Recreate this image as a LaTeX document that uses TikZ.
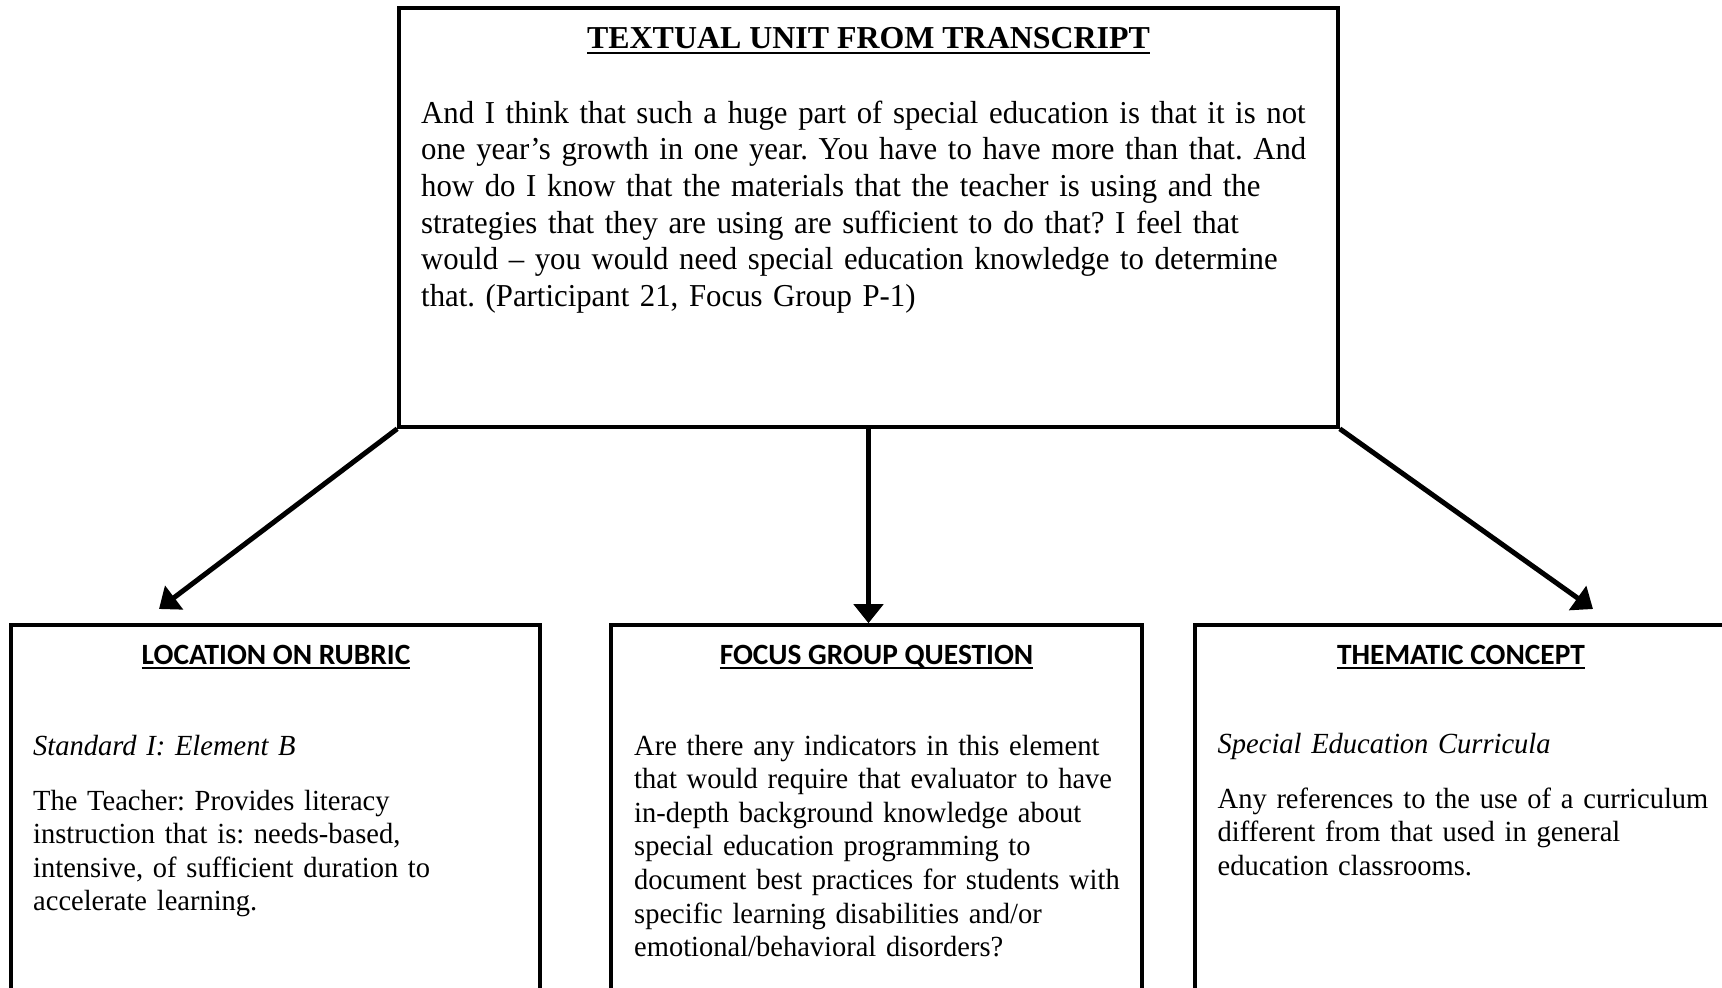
\documentclass[tikz,border=0pt]{standalone}
\usepackage{fontspec}
\setmainfont{Liberation Serif}
\newfontfamily\topfont{Liberation Serif}[FakeStretch=0.965]
\newfontfamily\botfont{Liberation Serif}[FakeStretch=0.976]
\newfontfamily\hdfont{Carlito}
\usetikzlibrary{arrows.meta}
\newcommand\ulx[3]{\leavevmode\setbox0=\hbox{#3}\dp0=0pt\vtop{\copy0\kern#1\hrule height #2 width \wd0}}
\frenchspacing
\begin{document}
\begin{tikzpicture}[x=1pt,y=-1pt,
  box/.style={draw, line width=3.6pt, rectangle, inner sep=0pt},
  arr/.style={line width=5pt, -{Triangle[length=19pt,width=29pt]}},
  bigtext/.style={anchor=base west, inner sep=0pt, text width=1000pt, align=left,
    font=\topfont\frenchspacing\fontsize{31.9}{36.7}\selectfont},
  smalltext/.style={anchor=base west, inner sep=0pt, text width=600pt, align=left,
    font=\botfont\frenchspacing\fontsize{29.2}{33.6}\selectfont},
  title/.style={anchor=base, inner sep=0pt, font=\bfseries\fontsize{31.9}{36.7}\selectfont},
  head/.style={anchor=base, inner sep=0pt, font=\hdfont\bfseries\fontsize{29.4}{33.6}\selectfont},
]
\useasboundingbox (0,0) rectangle (1722,988);
\fill[white] (0,0) rectangle (1722,988);
\clip (0,0) rectangle (1722,988);

% top box
\node[box, minimum width=939pt, minimum height=419pt] (top) at (868.5,217.5) {};
\node[title] (ttl) at (868.5,48) {\ulx{3.5pt}{2.5pt}{TEXTUAL UNIT FROM TRANSCRIPT}};
\node[bigtext] (tbody) at (421,123) {And I think that such a huge part of special education is that it is not\\
one year’s growth in one year. You have to have more than that. And\\
how do I know that the materials that the teacher is using and the\\
strategies that they are using are sufficient to do that? I feel that\\
would – you would need special education knowledge to determine\\
that. (Participant 21, Focus Group P-1)};

% bottom boxes (open at the bottom edge of the picture)
\node[box, minimum width=529pt, minimum height=500pt] (lbox) at (275.5,875) {};
\node[box, minimum width=531pt, minimum height=500pt] (mbox) at (876.5,875) {};
\node[box, minimum width=545pt, minimum height=500pt] (rbox) at (1467.5,875) {};

\node[head] (lhead) at (276,664) {\ulx{3pt}{2.2pt}{LOCATION ON RUBRIC}};
\node[head] (mhead) at (876.5,664) {\ulx{3pt}{2.2pt}{FOCUS GROUP QUESTION}};
\node[head] (rhead) at (1461,664) {\ulx{3pt}{2.2pt}{THEMATIC CONCEPT}};

\node[smalltext] (ltext) at (33,755) {\textit{Standard I: Element B}\\[21.4pt]
The Teacher: Provides literacy\\
instruction that is: needs-based,\\
intensive, of sufficient duration to\\
accelerate learning.};

\node[smalltext] (mtext) at (634,755) {Are there any indicators in this element\\
that would require that evaluator to have\\
in-depth background knowledge about\\
special education programming to\\
document best practices for students with\\
specific learning disabilities and/or\\
emotional/behavioral disorders?};

\node[smalltext] (rtext) at (1217.5,753) {\textit{Special Education Curricula}\\[21.4pt]
Any references to the use of a curriculum\\
different from that used in general\\
education classrooms.};

% connectors
\coordinate (ltip) at (159,609);
\coordinate (rtip) at (1593,609);
\draw[arr] (top.south west) -- (ltip);
\draw[arr] (top.south) -- (top.south |- mbox.north);
\draw[arr] (top.south east) -- (rtip);
\end{tikzpicture}
\end{document}
